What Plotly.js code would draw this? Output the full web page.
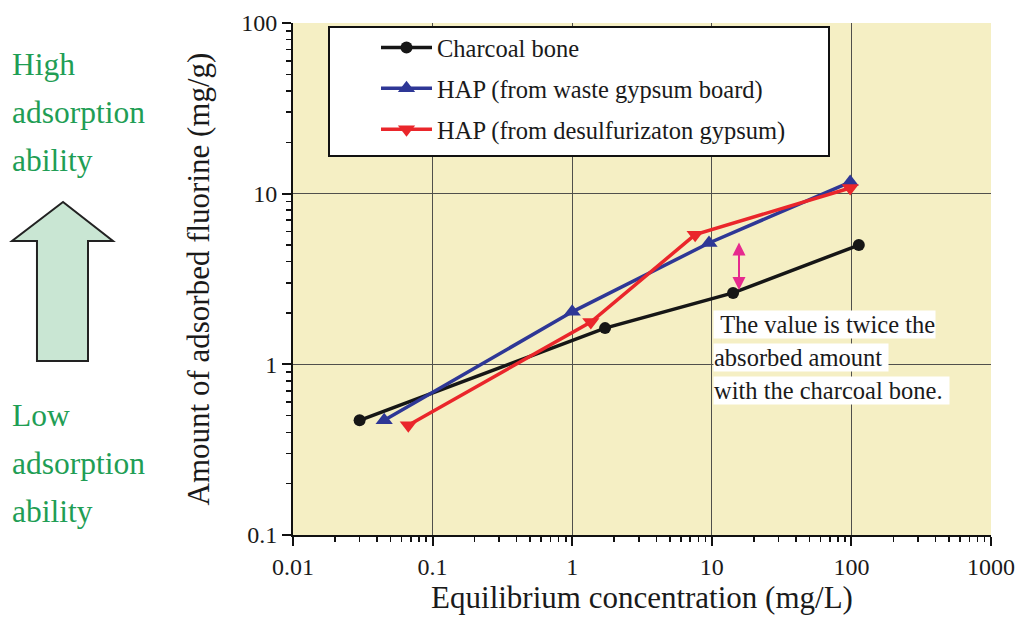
<!DOCTYPE html>
<html>
<head>
<meta charset="utf-8">
<script src="https://cdn.plot.ly/plotly-3.0.1.min.js"></script>
<style>html,body{margin:0;padding:0;background:#fff;}#chart{width:1020px;height:618px;}</style>
</head>
<body>
<div id="chart"></div>
<script>
// Data
const seriesNames = ["Charcoal bone", "HAP (from waste gypsum board)", "HAP (from desulfurizaton gypsum)"];
const charcoalX = [0.03, 1.72, 14.2, 113];
const charcoalY = [0.47, 1.63, 2.62, 5.0];
const wasteX = [0.045, 1.0, 9.55, 98];
const wasteY = [0.47, 2.03, 5.14, 11.7];
const desulfX = [0.067, 1.36, 7.6, 98];
const desulfY = [0.44, 1.77, 5.75, 10.8];
const xTickVals = [0.01, 0.1, 1, 10, 100, 1000];
const xTickText = ["0.01", "0.1", "1", "10", "100", "1000"];
const yTickVals = [0.1, 1, 10, 100];
const yTickText = ["0.1", "1", "10", "100"];
const noteLines = ["\u00a0The value is twice the", "absorbed amount\u00a0", "with the charcoal bone.\u00a0"];
const highLines = ["High", "adsorption", "ability"];
const lowLines = ["Low", "adsorption", "ability"];

const W = 1020, H = 618;
const L = 293, R = 991, T = 23, B = 535;
const px = v => (v - L) / (R - L);
const py = v => (B - v) / (B - T);
const serif = "Liberation Serif, Times New Roman, serif";
const green = "#1f9e55";
const ink = "#1a1a1a";

const traces = [
  {x: charcoalX, y: charcoalY, name: seriesNames[0], legendgroup: "a", mode: "lines+markers",
   line: {color: "#161616", width: 3.5}, marker: {symbol: "circle", size: 12, color: "#161616"}},
  {x: wasteX, y: wasteY, name: seriesNames[1], legendgroup: "b", mode: "lines+markers",
   line: {color: "#2e3796", width: 3.5}, marker: {symbol: "triangle-up", size: 15, color: "#2e3796"}},
  {x: desulfX, y: desulfY, name: seriesNames[2], legendgroup: "c", mode: "lines+markers",
   line: {color: "#ea262b", width: 3.5}, marker: {symbol: "triangle-down", size: 15, color: "#ea262b"}}
];

const annotations = [];
noteLines.forEach((t, i) => {
  annotations.push({xref: "paper", yref: "paper", x: px(713), y: py(324 + 33 * i), xanchor: "left", yanchor: "middle",
    text: t, showarrow: false, bgcolor: "#ffffff", borderpad: 0, align: "left",
    font: {family: serif, size: 24.5, color: ink}});
});
highLines.forEach((t, i) => {
  annotations.push({xref: "paper", yref: "paper", x: px(10), y: py(64 + 48 * i), xanchor: "left", yanchor: "middle",
    text: t, showarrow: false, font: {family: serif, size: 31.5, color: green}});
});
lowLines.forEach((t, i) => {
  annotations.push({xref: "paper", yref: "paper", x: px(10), y: py(415 + 48 * i), xanchor: "left", yanchor: "middle",
    text: t, showarrow: false, font: {family: serif, size: 31.5, color: green}});
});
annotations.push({xref: "paper", yref: "paper", x: px(739), y: py(290), ax: 0, ay: -49, text: "",
  showarrow: true, arrowhead: 2, arrowside: "end+start", arrowsize: 1.3, arrowwidth: 2, arrowcolor: "#e62a8e"});

const arrowPts = [[63,202],[12,241],[37,241],[37,361],[88,361],[88,241],[113,241]];
const arrowPath = "M" + arrowPts.map(p => px(p[0]).toFixed(4) + "," + py(p[1]).toFixed(4)).join(" L") + " Z";

const layout = {
  width: W, height: H,
  margin: {l: L, r: W - R, t: T, b: H - B, pad: 0},
  paper_bgcolor: "#ffffff",
  plot_bgcolor: "#f5efc4",
  font: {family: serif, color: ink},
  showlegend: true,
  legend: {x: px(376), y: py(25), xanchor: "left", yanchor: "top", bgcolor: "rgba(0,0,0,0)",
    borderwidth: 0, font: {family: serif, size: 24.5, color: ink}, tracegroupgap: 6, itemwidth: 51},
  xaxis: {type: "log", range: [-2, 3], tickvals: xTickVals, ticktext: xTickText,
    ticks: "outside", ticklen: 9, tickwidth: 2, tickcolor: "#111",
    showline: true, linecolor: "#111", linewidth: 2, mirror: false,
    showgrid: true, gridcolor: "#50504c", gridwidth: 1, zeroline: false,
    tickfont: {family: serif, size: 24, color: ink},
    minor: {ticks: "outside", ticklen: 5, tickwidth: 1.5, tickcolor: "#111", dtick: "D1", showgrid: false},
    title: {text: "Equilibrium concentration (mg/L)", font: {family: serif, size: 31, color: ink}, standoff: 8}},
  yaxis: {type: "log", range: [-1, 2], tickvals: yTickVals, ticktext: yTickText,
    ticks: "outside", ticklen: 9, tickwidth: 2, tickcolor: "#111",
    showline: true, linecolor: "#111", linewidth: 2, mirror: false,
    showgrid: true, gridcolor: "#50504c", gridwidth: 1, zeroline: false,
    tickfont: {family: serif, size: 24, color: ink},
    minor: {ticks: "outside", ticklen: 5, tickwidth: 1.5, tickcolor: "#111", dtick: "D1", showgrid: false},
    title: {text: "Amount of adsorbed fluorine (mg/g)", font: {family: serif, size: 31, color: ink}, standoff: 22}},
  shapes: [
    {type: "rect", xref: "paper", yref: "paper", x0: px(329), x1: px(829), y0: py(156), y1: py(27),
     fillcolor: "#ffffff", line: {color: "#111", width: 2}, layer: "above"},
    {type: "path", xref: "paper", yref: "paper", path: arrowPath, fillcolor: "#c9e6d3",
     line: {color: "#222", width: 2}, layer: "above"}
  ],
  annotations: annotations
};

Plotly.newPlot("chart", traces, layout, {displayModeBar: false, staticPlot: true});
</script>
</body>
</html>
